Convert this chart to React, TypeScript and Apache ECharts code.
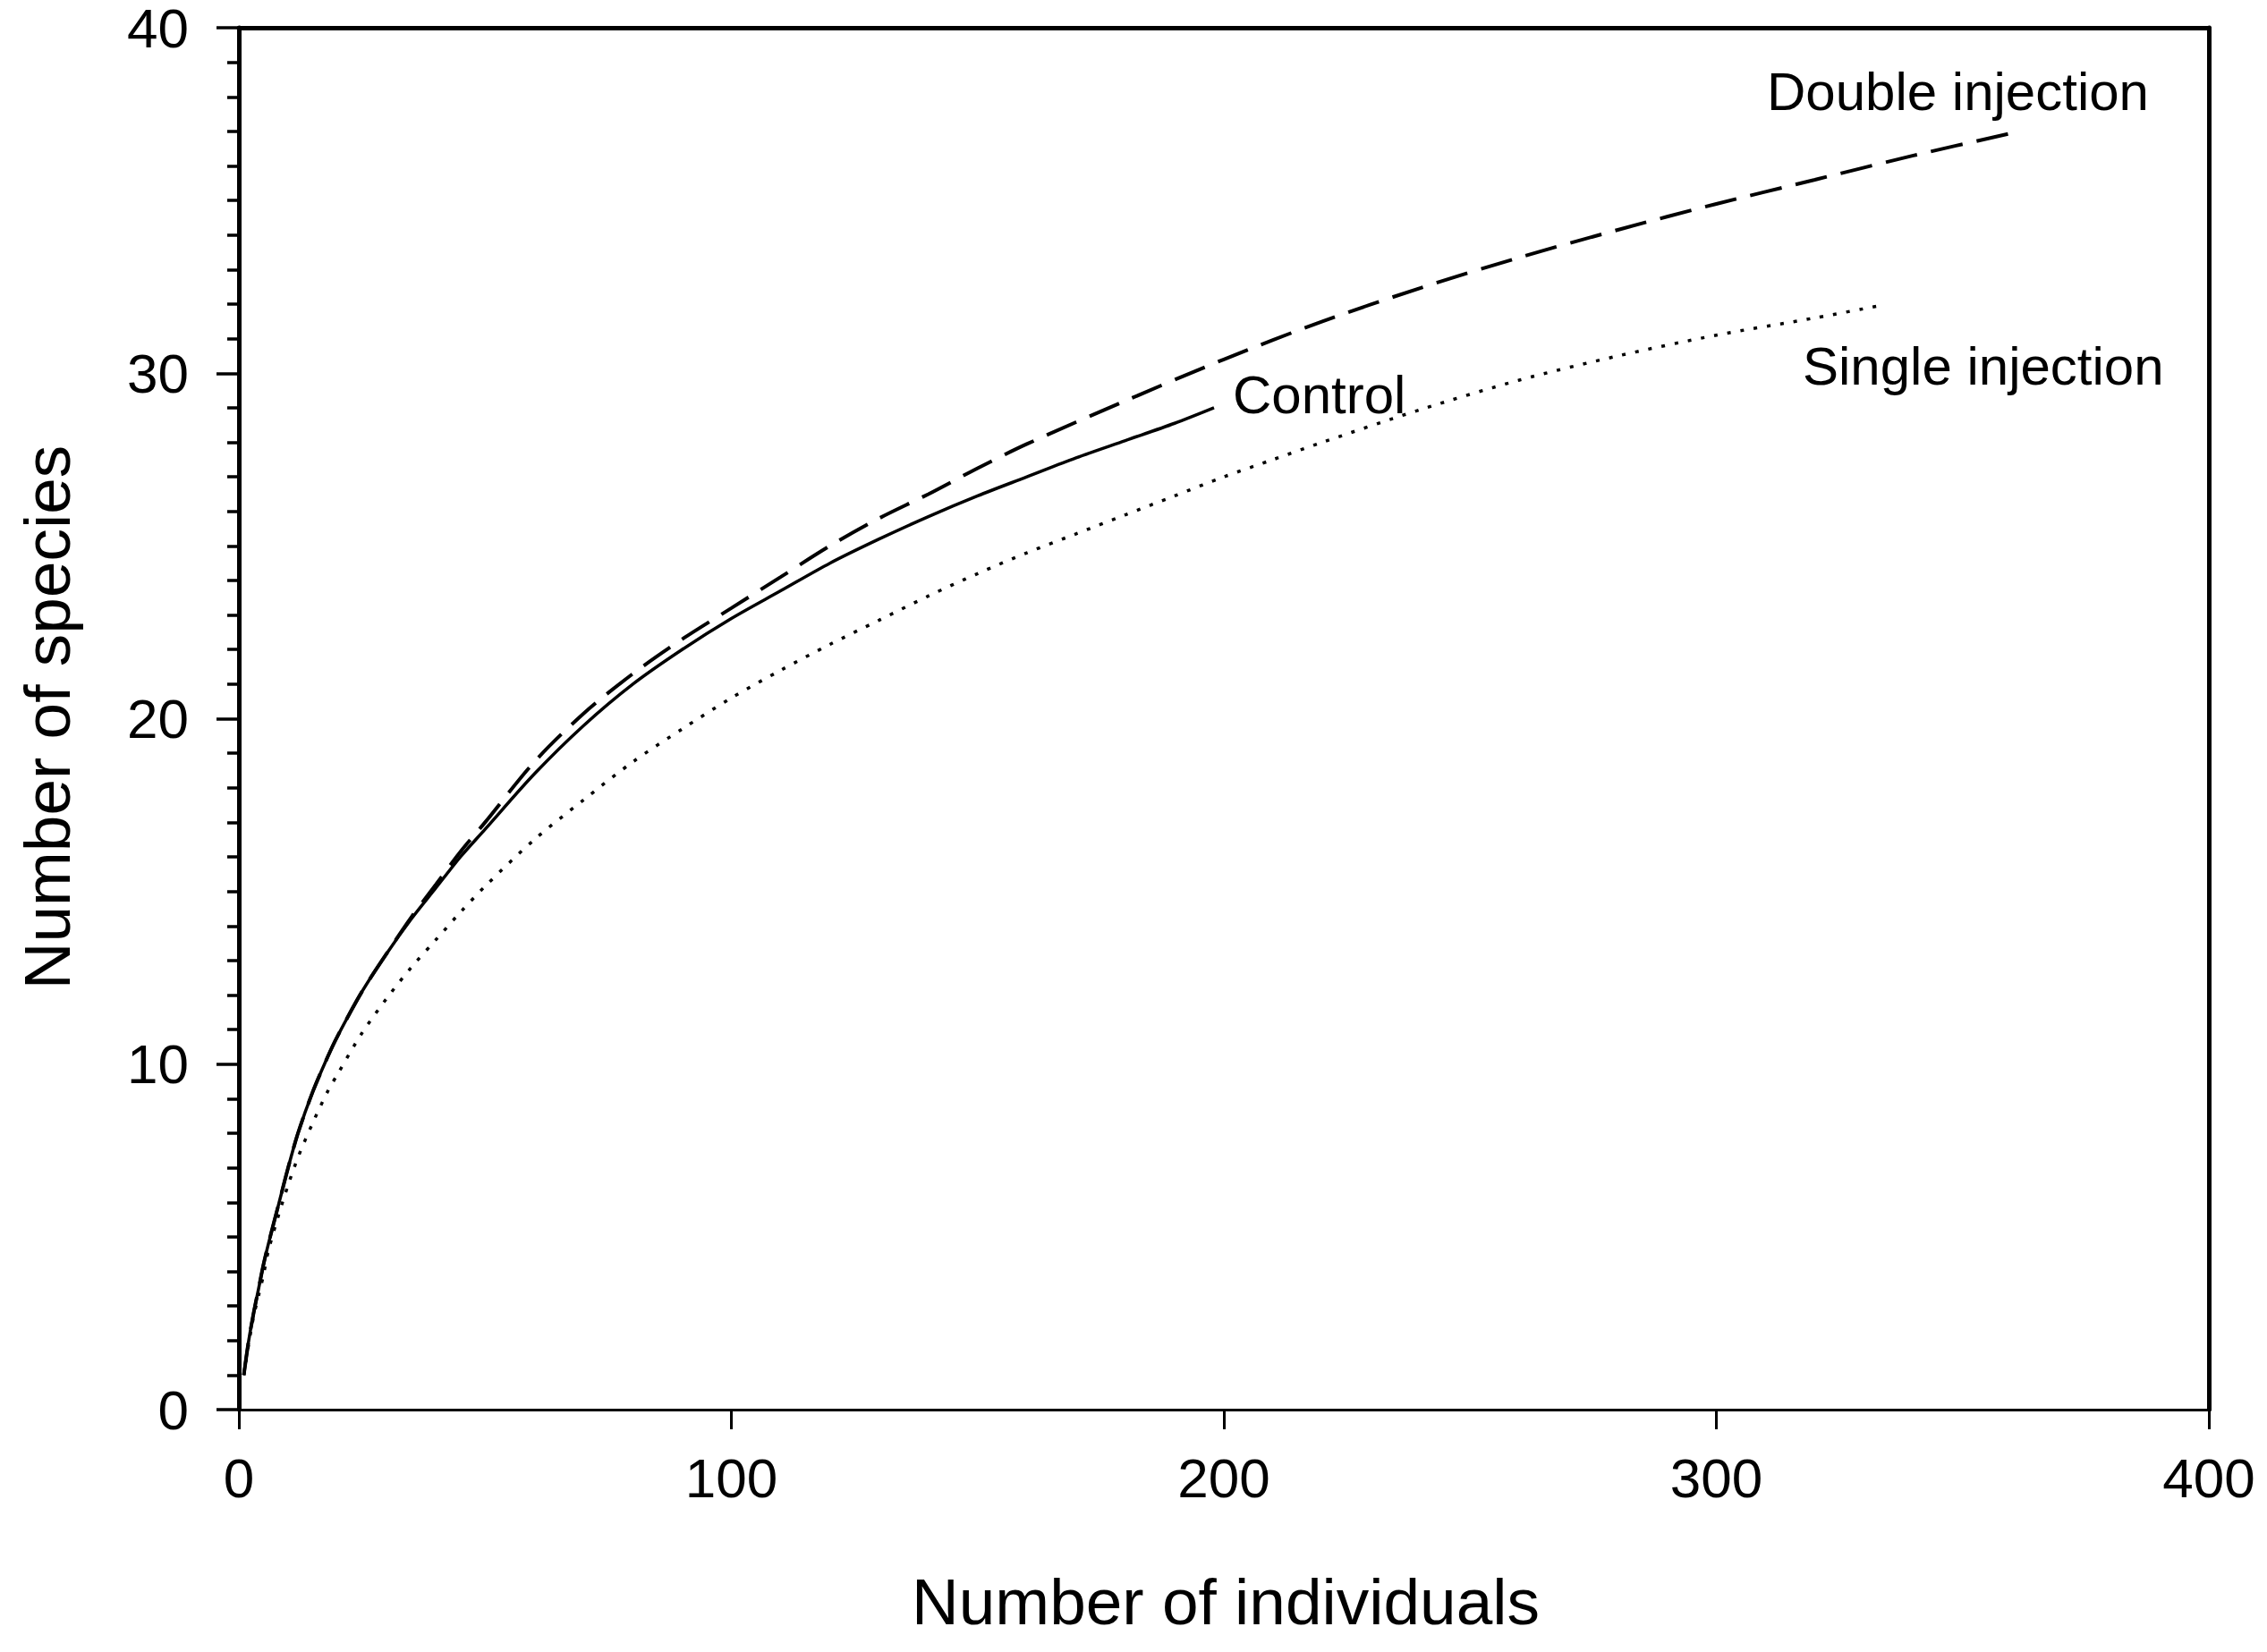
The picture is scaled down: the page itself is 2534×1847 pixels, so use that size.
import React, { useEffect, useRef } from "react";
import * as echarts from "echarts";

// ---- data ----
const xTickValues = [0, 100, 200, 300, 400];
const yTickValues = [0, 10, 20, 30, 40];

const controlX = [1, 2, 3, 4, 5, 6, 8, 10, 12, 15, 18, 20, 25, 30, 35, 40, 45, 50, 60, 70, 80, 90, 100, 110, 120, 130, 140, 150, 160, 170, 180, 190, 198];
const controlY = [1.0, 2.0, 2.8, 3.5, 4.2, 4.8, 5.9, 7.0, 8.0, 9.2, 10.2, 10.8, 12.1, 13.2, 14.2, 15.1, 16.0, 16.8, 18.4, 19.8, 21.0, 22.0, 22.9, 23.7, 24.5, 25.2, 25.85, 26.45, 27.0, 27.55, 28.05, 28.55, 29.0];

const doubleX = [1, 2, 3, 4, 5, 6, 8, 10, 12, 15, 18, 20, 25, 30, 35, 40, 45, 50, 60, 70, 80, 90, 100, 110, 120, 130, 140, 150, 160, 180, 200, 220, 240, 260, 280, 300, 320, 340, 360];
const doubleY = [1.0, 2.0, 2.8, 3.5, 4.2, 4.8, 5.9, 7.0, 8.0, 9.2, 10.2, 10.8, 12.1, 13.2, 14.25, 15.2, 16.15, 17.0, 18.75, 20.15, 21.3, 22.3, 23.2, 24.1, 25.0, 25.8, 26.5, 27.25, 27.95, 29.2, 30.4, 31.5, 32.47, 33.35, 34.15, 34.9, 35.6, 36.3, 36.95];

const singleX = [1, 2, 3, 4, 5, 6, 8, 10, 12, 15, 18, 20, 25, 30, 35, 40, 45, 50, 60, 70, 80, 90, 100, 110, 120, 130, 140, 150, 160, 170, 180, 190, 200, 210, 220, 240, 260, 280, 300, 320, 333];
const singleY = [1.0, 1.9, 2.7, 3.3, 3.9, 4.6, 5.6, 6.5, 7.3, 8.3, 9.2, 9.7, 10.9, 11.9, 12.8, 13.6, 14.4, 15.15, 16.5, 17.65, 18.75, 19.7, 20.6, 21.4, 22.15, 22.85, 23.55, 24.2, 24.8, 25.35, 25.9, 26.45, 27.0, 27.5, 28.0, 28.95, 29.8, 30.5, 31.1, 31.6, 31.95];

const seriesNames = ["Control", "Double injection", "Single injection"];
const xTitle = "Number of individuals";
const yTitle = "Number of species";

const FONT = "'Liberation Sans', Arial, sans-serif";

function zip(xs: number[], ys: number[]) {
  return xs.map((x, i) => [x, ys[i]]);
}

export default function App() {
  const ref = useRef<HTMLDivElement>(null);

  useEffect(() => {
    document.body.style.margin = "0";
    const chart = echarts.init(ref.current!, null, { renderer: "svg" });

    const hiddenAxisParts = {
      axisTick: { show: false },
      axisLabel: { show: false },
      splitLine: { show: false },
    };

    const option: any = {
      animation: false,
      backgroundColor: "#ffffff",
      grid: { left: 267, right: 65, top: 29, bottom: 271, containLabel: false },
      xAxis: [
        {
          type: "value",
          position: "bottom",
          min: xTickValues[0],
          max: xTickValues[xTickValues.length - 1],
          interval: 100,
          axisLine: { show: true, onZero: false, lineStyle: { color: "#000", width: 3 } },
          axisTick: { show: true, inside: false, length: 22, lineStyle: { color: "#000", width: 3 } },
          axisLabel: { color: "#000", fontSize: 62, fontFamily: FONT, margin: 50, lineHeight: 52 },
          splitLine: { show: false },
        },
        {
          type: "value",
          position: "top",
          min: 0,
          max: 400,
          interval: 100,
          axisLine: { show: true, onZero: false, lineStyle: { color: "#000", width: 5 } },
          ...hiddenAxisParts,
        },
      ],
      yAxis: [
        {
          type: "value",
          position: "left",
          min: yTickValues[0],
          max: yTickValues[yTickValues.length - 1],
          interval: 10,
          axisLine: { show: true, onZero: false, lineStyle: { color: "#000", width: 5 } },
          axisTick: { show: true, inside: false, length: 25, lineStyle: { color: "#000", width: 3.5 } },
          minorTick: { show: true, splitNumber: 10, length: 13, lineStyle: { color: "#000", width: 3.5 } },
          axisLabel: { color: "#000", fontSize: 62, fontFamily: FONT, margin: 56, lineHeight: 52 },
          splitLine: { show: false },
          minorSplitLine: { show: false },
        },
        {
          type: "value",
          position: "right",
          min: 0,
          max: 40,
          interval: 10,
          axisLine: { show: true, onZero: false, lineStyle: { color: "#000", width: 5 } },
          ...hiddenAxisParts,
        },
      ],
      series: [
        {
          name: seriesNames[0],
          type: "line",
          data: zip(controlX, controlY),
          showSymbol: false,
          smooth: 0.3,
          lineStyle: { color: "#000", width: 3.5, type: "solid" },
          z: 3,
        },
        {
          name: seriesNames[1],
          type: "line",
          data: zip(doubleX, doubleY),
          showSymbol: false,
          smooth: 0.3,
          lineStyle: { color: "#000", width: 4, type: [36, 16] },
          z: 2,
        },
        {
          name: seriesNames[2],
          type: "line",
          data: zip(singleX, singleY),
          showSymbol: false,
          smooth: 0.3,
          lineStyle: { color: "#000", width: 3.5, type: [4, 11] },
          z: 2,
        },
      ],
      graphic: [
        {
          type: "text",
          x: 1370,
          y: 1790,
          style: { text: xTitle, fill: "#000", font: `73px ${FONT}`, textAlign: "center", textVerticalAlign: "middle" },
        },
        {
          type: "text",
          x: 52,
          y: 802,
          rotation: Math.PI / 2,
          style: { text: yTitle, fill: "#000", font: `73px ${FONT}`, textAlign: "center", textVerticalAlign: "middle" },
        },
        {
          type: "text",
          x: 1378,
          y: 441,
          style: { text: seriesNames[0], fill: "#000", font: `60px ${FONT}`, textAlign: "left", textVerticalAlign: "middle" },
        },
        {
          type: "text",
          x: 1975,
          y: 102,
          style: { text: seriesNames[1], fill: "#000", font: `60px ${FONT}`, textAlign: "left", textVerticalAlign: "middle" },
        },
        {
          type: "text",
          x: 2015,
          y: 409,
          style: { text: seriesNames[2], fill: "#000", font: `60px ${FONT}`, textAlign: "left", textVerticalAlign: "middle" },
        },
      ],
    };

    chart.setOption(option);
    return () => chart.dispose();
  }, []);

  return <div ref={ref} style={{ width: 2534, height: 1847 }} />;
}
